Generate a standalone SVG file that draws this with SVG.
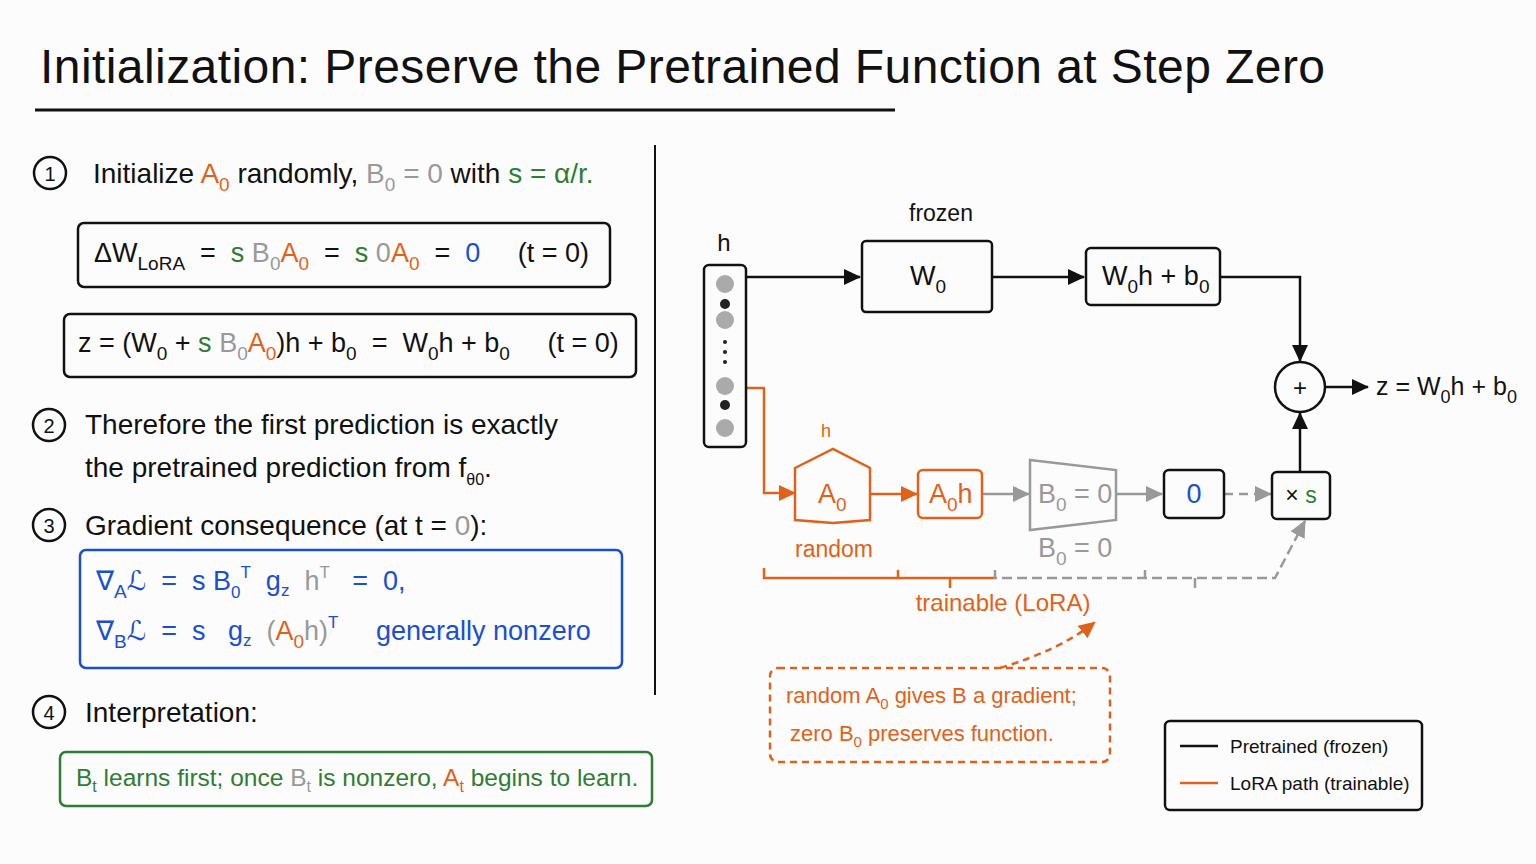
<svg xmlns="http://www.w3.org/2000/svg" width="1536" height="864" viewBox="0 0 1536 864">
<style>
text{font-family:"Liberation Sans","DejaVu Sans",sans-serif;fill:#111;white-space:pre}
.t{font-size:28px}
.m{font-size:27px}
.o{fill:#e0621a}.g{fill:#999}.gr{fill:#2e7d32}.b{fill:#1a4fd0}
.box{fill:none;stroke:#111;stroke-width:2.5}
.ln{fill:none;stroke:#111;stroke-width:2.5}
.ol{fill:none;stroke:#e0621a;stroke-width:2.5}
.gl{fill:none;stroke:#999;stroke-width:2.5}
</style>
<defs>
<marker id="ao" markerWidth="18" markerHeight="16" refX="16" refY="8" orient="auto" markerUnits="userSpaceOnUse"><path d="M0,0 L17,8 L0,16 z" fill="#e0621a"/></marker>
<marker id="ag" markerWidth="18" markerHeight="16" refX="16" refY="8" orient="auto" markerUnits="userSpaceOnUse"><path d="M0,0 L17,8 L0,16 z" fill="#999"/></marker>
<marker id="ab" markerWidth="18" markerHeight="16" refX="16" refY="8" orient="auto" markerUnits="userSpaceOnUse"><path d="M0,0 L17,8 L0,16 z" fill="#111"/></marker>
</defs>
<rect width="1536" height="864" fill="#fcfcfc"/>
<g id="title">
<text x="40" y="83" font-size="48" textLength="1285" lengthAdjust="spacing">Initialization: Preserve the Pretrained Function at Step Zero</text>
<path d="M35,110 L895,110" stroke="#111" stroke-width="3"/>
</g>
<path d="M655,145 L655,695" stroke="#111" stroke-width="2"/>
<g id="left">
<circle cx="50" cy="173" r="16" class="ln" stroke-width="2"/><text x="50" y="181" font-size="20" text-anchor="middle">1</text>
<text x="93" y="183" class="t" font-size="29">Initialize <tspan class="o">A<tspan dy="8" font-size="19">0</tspan></tspan><tspan dy="-8"> randomly, </tspan><tspan class="g">B<tspan dy="8" font-size="19">0</tspan><tspan dy="-8"> = 0</tspan></tspan> with <tspan class="gr">s = α/r.</tspan></text>
<rect x="78" y="223" width="532" height="64" rx="6" class="box"/>
<text x="94" y="262" class="m">ΔW<tspan dy="8" font-size="19">LoRA</tspan><tspan dy="-8">  =  </tspan><tspan class="gr">s </tspan><tspan class="g">B<tspan dy="8" font-size="19">0</tspan></tspan><tspan class="o" dy="-8">A<tspan dy="8" font-size="19">0</tspan></tspan><tspan dy="-8">  =  </tspan><tspan class="gr">s </tspan><tspan class="g">0</tspan><tspan class="o">A<tspan dy="8" font-size="19">0</tspan></tspan><tspan dy="-8">  =  </tspan><tspan class="b">0</tspan><tspan>     (t = 0)</tspan></text>
<rect x="64" y="314" width="572" height="63" rx="6" class="box"/>
<text x="78" y="352" class="m">z = (W<tspan dy="8" font-size="19">0</tspan><tspan dy="-8"> + </tspan><tspan class="gr">s </tspan><tspan class="g">B<tspan dy="8" font-size="19">0</tspan></tspan><tspan class="o" dy="-8">A<tspan dy="8" font-size="19">0</tspan></tspan><tspan dy="-8">)h + b</tspan><tspan dy="8" font-size="19">0</tspan><tspan dy="-8">  =  W</tspan><tspan dy="8" font-size="19">0</tspan><tspan dy="-8">h + b</tspan><tspan dy="8" font-size="19">0</tspan><tspan dy="-8">     (t = 0)</tspan></text>
<circle cx="49" cy="425" r="16" class="ln" stroke-width="2"/><text x="49" y="433" font-size="20" text-anchor="middle">2</text>
<text x="85" y="434" class="t" font-size="28.8">Therefore the first prediction is exactly</text>
<text x="85" y="477" class="t" font-size="28.8">the pretrained prediction from f<tspan dy="8" font-size="16">θ0</tspan><tspan dy="-8">.</tspan></text>
<circle cx="49" cy="525" r="16" class="ln" stroke-width="2"/><text x="49" y="533" font-size="20" text-anchor="middle">3</text>
<text x="85" y="535" class="t" font-size="28.8">Gradient consequence (at t = <tspan class="g">0</tspan>):</text>
<rect x="80" y="550" width="542" height="118" rx="6" fill="none" stroke="#1a4fd0" stroke-width="2.5"/>
<text x="96" y="590" class="m b" font-size="29">∇<tspan dy="8" font-size="19">A</tspan><tspan dy="-8">ℒ  =  s B</tspan><tspan dy="8" font-size="17">0</tspan><tspan dy="-20" font-size="17">T</tspan><tspan dy="12">  g</tspan><tspan dy="6" font-size="17">z</tspan><tspan dy="-6" class="g">  h</tspan><tspan dy="-12" font-size="17" class="g">T</tspan><tspan dy="12">   =  0,</tspan></text>
<text x="96" y="640" class="m b" font-size="29">∇<tspan dy="8" font-size="19">B</tspan><tspan dy="-8">ℒ  =  s   g</tspan><tspan dy="6" font-size="17">z</tspan><tspan dy="-6" class="g">  (</tspan><tspan class="o">A<tspan dy="8" font-size="19">0</tspan></tspan><tspan dy="-8" class="g">h)</tspan><tspan dy="-12" font-size="17">T</tspan><tspan dy="12">     generally nonzero</tspan></text>
<circle cx="49" cy="712" r="16" class="ln" stroke-width="2"/><text x="49" y="720" font-size="20" text-anchor="middle">4</text>
<text x="85" y="722" class="t" font-size="28.8">Interpretation:</text>
<rect x="60" y="752" width="592" height="54" rx="6" fill="none" stroke="#2e7d32" stroke-width="2.5"/>
<text x="76" y="786" font-size="24.5" class="gr">B<tspan dy="6" font-size="16">t</tspan><tspan dy="-6"> learns first; once </tspan><tspan class="g">B<tspan dy="6" font-size="16">t</tspan></tspan><tspan dy="-6"> is nonzero, </tspan><tspan class="o">A<tspan dy="6" font-size="16">t</tspan></tspan><tspan dy="-6"> begins to learn.</tspan></text>
</g>
<g id="connectors">
<path d="M746,277 L860,277" class="ln" marker-end="url(#ab)"/>
<path d="M992,277 L1084,277" class="ln" marker-end="url(#ab)"/>
<path d="M1220,277 L1300,277 L1300,361" class="ln" marker-end="url(#ab)"/>
<path d="M1325,387 L1368,387" class="ln" marker-end="url(#ab)"/>
<path d="M1300,472 L1300,413" class="ln" marker-end="url(#ab)"/>
<path d="M746,388 L764,388 L764,493 L795,493" class="ol" marker-end="url(#ao)"/>
<path d="M870,494 L917,494" class="ol" marker-end="url(#ao)"/>
<path d="M982,494 L1029,494" class="gl" marker-end="url(#ag)"/>
<path d="M1116,494 L1162,494" class="gl" marker-end="url(#ag)"/>
<path d="M1224,494 L1271,494" class="gl" stroke-dasharray="9 6" marker-end="url(#ag)"/>
<path d="M764,568 L764,578 L898,578 L898,570 M898,578 L995,578 M950,578 L950,588" class="ol" stroke-width="2"/>
<path d="M995,570 L995,578 L1275,578 L1305,521" class="gl" stroke-width="2" stroke-dasharray="10 5" marker-end="url(#ag)"/>
<path d="M1145,570 L1145,578 M1195,578 L1195,588" class="gl" stroke-width="2"/>
<path d="M1000,668 Q1060,650 1095,622" class="ol" stroke-width="2" stroke-dasharray="7 5" marker-end="url(#ao)"/>
</g>
<g id="input">
<text x="724" y="251" font-size="24" text-anchor="middle">h</text>
<rect x="704" y="265" width="42" height="182" rx="5" class="box"/>
<circle cx="725" cy="284" r="9" fill="#aaa"/><circle cx="725" cy="304" r="5" fill="#222"/><circle cx="725" cy="320" r="9" fill="#aaa"/>
<circle cx="725" cy="342" r="2" fill="#222"/><circle cx="725" cy="352" r="2" fill="#222"/><circle cx="725" cy="362" r="2" fill="#222"/>
<circle cx="725" cy="386" r="9" fill="#aaa"/><circle cx="725" cy="405" r="5" fill="#222"/><circle cx="725" cy="428" r="9" fill="#aaa"/>
</g>
<g id="W0">
<text x="941" y="221" font-size="23" text-anchor="middle">frozen</text>
<rect x="862" y="241" width="130" height="71" rx="4" class="box"/>
<text x="910" y="285" font-size="27">W<tspan dy="8" font-size="19">0</tspan></text>
</g>
<g id="W0h">
<rect x="1086" y="248" width="134" height="57" rx="5" class="box"/>
<text x="1102" y="285" font-size="27">W<tspan dy="8" font-size="19">0</tspan><tspan dy="-8">h + b</tspan><tspan dy="8" font-size="19">0</tspan></text>
</g>
<g id="plus">
<circle cx="1300" cy="387" r="25" class="box" fill="#fff"/>
<text x="1300" y="396" font-size="24" text-anchor="middle">+</text>
</g>
<g id="zout"><text x="1376" y="395" font-size="25">z = W<tspan dy="8" font-size="18">0</tspan><tspan dy="-8">h + b</tspan><tspan dy="8" font-size="18">0</tspan></text></g>
<g id="A0">
<text x="826" y="437" font-size="18" text-anchor="middle" class="o">h</text>
<path d="M795,468 L833,449 L870,468 L870,520 L833,523 L795,520 Z" class="ol" stroke-width="2"/>
<text x="818" y="503" font-size="27" class="o">A<tspan dy="8" font-size="19">0</tspan></text>
<text x="834" y="557" font-size="23" text-anchor="middle" class="o">random</text>
</g>
<g id="A0h">
<rect x="918" y="470" width="64" height="48" rx="5" class="ol"/>
<text x="929" y="503" font-size="27" class="o">A<tspan dy="8" font-size="19">0</tspan><tspan dy="-8">h</tspan></text>
</g>
<g id="B0">
<path d="M1030,460 L1116,470 L1116,520 L1030,530 Z" class="gl" stroke-width="2"/>
<text x="1038" y="503" font-size="27" class="g">B<tspan dy="8" font-size="19">0</tspan><tspan dy="-8"> = 0</tspan></text>
<text x="1038" y="557" font-size="27" class="g">B<tspan dy="8" font-size="19">0</tspan><tspan dy="-8"> = 0</tspan></text>
</g>
<g id="zero">
<rect x="1164" y="470" width="60" height="48" rx="5" class="box"/>
<text x="1194" y="503" font-size="27" text-anchor="middle" class="b">0</text>
</g>
<g id="xs">
<rect x="1272" y="472" width="58" height="47" rx="5" class="box" fill="#fff"/>
<text x="1301" y="503" font-size="23" text-anchor="middle">× <tspan class="gr">s</tspan></text>
</g>
<g id="trainable"><text x="1003" y="611" font-size="24" text-anchor="middle" class="o">trainable (LoRA)</text></g>
<g id="note">
<rect x="770" y="668" width="340" height="94" rx="8" class="ol" stroke-width="2" stroke-dasharray="7 5"/>
<text x="786" y="703" font-size="22" class="o">random A<tspan dy="6" font-size="15">0</tspan><tspan dy="-6"> gives B a gradient;</tspan></text>
<text x="790" y="741" font-size="22" class="o">zero B<tspan dy="6" font-size="15">0</tspan><tspan dy="-6"> preserves function.</tspan></text>
</g>
<g id="legend">
<rect x="1165" y="721" width="257" height="89" rx="5" class="box" stroke-width="2"/>
<path d="M1180,746 L1218,746" class="ln" stroke-width="2"/>
<path d="M1180,783 L1218,783" class="ol" stroke-width="2"/>
<text x="1230" y="753" font-size="19">Pretrained (frozen)</text>
<text x="1230" y="790" font-size="19">LoRA path (trainable)</text>
</g>
</svg>
